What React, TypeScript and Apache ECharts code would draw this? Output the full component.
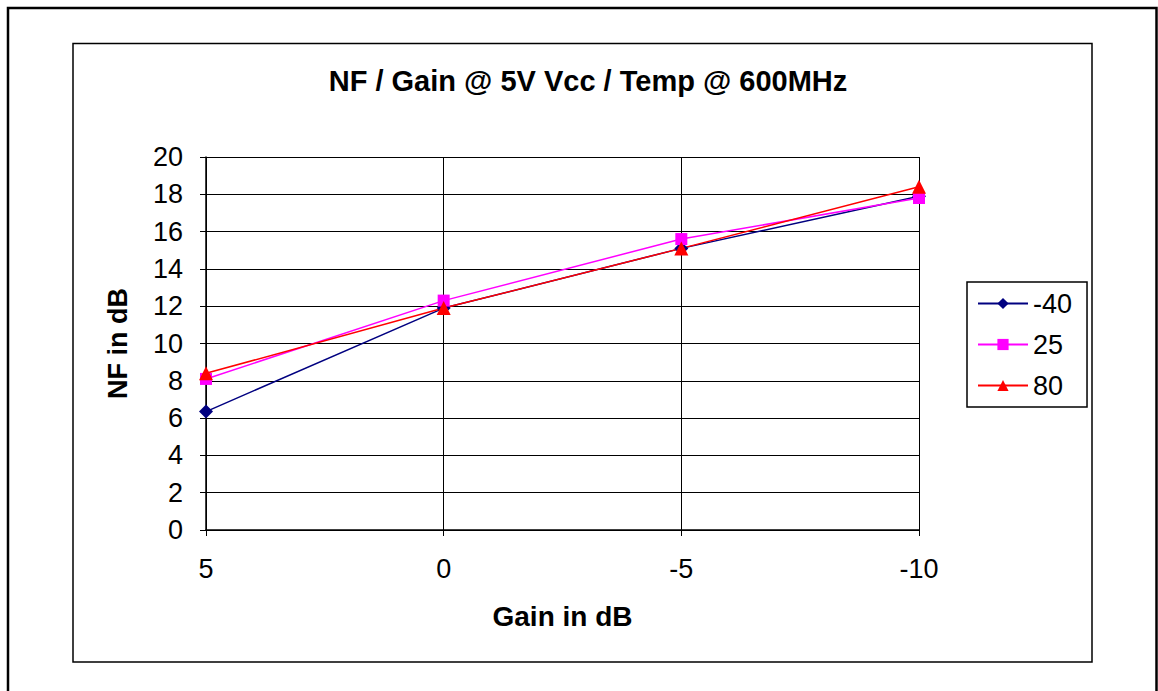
import React, { useEffect, useRef } from "react";
import * as echarts from "echarts";

const categories = ["5", "0", "-5", "-10"];
const seriesNames = ["-40", "25", "80"];
const valuesM40 = [6.35, 11.9, 15.1, 17.9];
const values25 = [8.1, 12.3, 15.6, 17.8];
const values80 = [8.4, 11.9, 15.1, 18.4];
const yTicks = { min: 0, max: 20, interval: 2 };

const FONT = "'Liberation Sans', Arial, sans-serif";

export default function App() {
  const ref = useRef<HTMLDivElement>(null);
  useEffect(() => {
    if (!ref.current) return;
    const chart = echarts.init(ref.current, undefined, { renderer: "svg" });
    const mk = (name: string, data: number[], color: string, symbol: string, size: number) => ({
      name,
      type: "line",
      data,
      symbol,
      symbolSize: size,
      itemStyle: { color },
      lineStyle: { color, width: 1.5 },
    });
    chart.setOption({
      animation: false,
      backgroundColor: "#fff",
      textStyle: { fontFamily: FONT },
      title: {
        text: "NF / Gain @ 5V Vcc / Temp @ 600MHz",
        left: 588,
        top: 66,
        textAlign: "center",
        padding: 0,
        textStyle: { fontFamily: FONT, fontSize: 29, fontWeight: "bold", color: "#000" },
      },
      legend: {
        orient: "vertical",
        left: 967,
        top: 282,
        padding: [8, 15, 8, 10],
        itemWidth: 50,
        itemHeight: 14,
        itemGap: 14,
        borderColor: "#000",
        borderWidth: 1.5,
        textStyle: { fontFamily: FONT, fontSize: 27, color: "#000" },
        data: seriesNames,
      },
      grid: { left: 206, top: 157, width: 713, height: 373, containLabel: false },
      xAxis: {
        type: "category",
        data: categories,
        boundaryGap: false,
        name: "Gain in dB",
        nameLocation: "middle",
        nameGap: 72,
        nameTextStyle: { fontFamily: FONT, fontSize: 28, fontWeight: "bold", color: "#000" },
        axisLine: { lineStyle: { color: "#000", width: 1.5 } },
        axisTick: { show: true, length: 6, lineStyle: { color: "#000" } },
        axisLabel: { margin: 25, fontFamily: FONT, fontSize: 27, color: "#000" },
        splitLine: { show: true, lineStyle: { color: "#000", width: 1 } },
      },
      yAxis: {
        type: "value",
        min: yTicks.min,
        max: yTicks.max,
        interval: yTicks.interval,
        name: "NF in dB",
        nameLocation: "middle",
        nameGap: 75,
        nameTextStyle: { fontFamily: FONT, fontSize: 27, fontWeight: "bold", color: "#000" },
        axisLine: { show: true, lineStyle: { color: "#000", width: 1.5 } },
        axisTick: { show: true, length: 6, lineStyle: { color: "#000" } },
        axisLabel: { margin: 23, fontFamily: FONT, fontSize: 27, color: "#000" },
        splitLine: { show: true, lineStyle: { color: "#000", width: 1 } },
      },
      graphic: [
        {
          type: "rect",
          shape: { x: 8, y: 8, width: 1148.5, height: 800 },
          style: { fill: "none", stroke: "#000", lineWidth: 2.5 },
          silent: true,
        },
        {
          type: "rect",
          shape: { x: 73, y: 43.5, width: 1019, height: 618.5 },
          style: { fill: "none", stroke: "#000", lineWidth: 1.5 },
          silent: true,
        },
      ],
      series: [
        mk(seriesNames[0], valuesM40, "#000080", "diamond", 14),
        mk(seriesNames[1], values25, "#FF00FF", "rect", 12),
        mk(seriesNames[2], values80, "#FF0000", "triangle", 14),
      ],
    });
    return () => chart.dispose();
  }, []);
  return (
    <div
      ref={ref}
      style={{ position: "fixed", left: 0, top: 0, width: 1158, height: 691, background: "#fff" }}
    />
  );
}
